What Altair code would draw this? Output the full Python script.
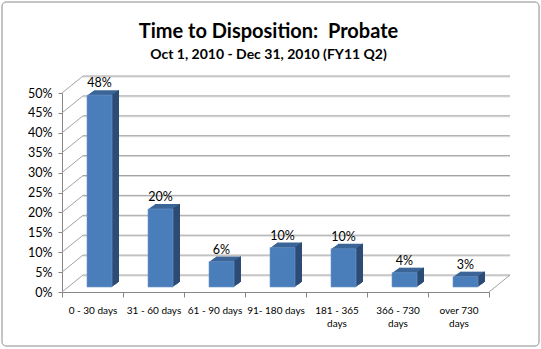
import altair as alt
import pandas as pd

# ---- data ----
categories = ["0 - 30 days", "31 - 60 days", "61 - 90 days", "91- 180 days",
              "181 - 365\ndays", "366 - 730\ndays", "over 730\ndays"]
values = [0.482, 0.196, 0.064, 0.099, 0.096, 0.036, 0.026]
tick_values = [0.0, 0.05, 0.10, 0.15, 0.20, 0.25, 0.30, 0.35, 0.40, 0.45, 0.50]

title_text = "Time to Disposition:\u00a0 Probate"
subtitle_text = "Oct 1, 2010 - Dec 31, 2010 (FY11 Q2)"

df = pd.DataFrame({"category": categories, "value": values})
ticks_df = pd.DataFrame({"t": tick_values})
one_df = pd.DataFrame({"a": [0]})

# ---- layout / style ----
W, H = 427, 199
WALL_DX, WALL_DY = 21, 17      # depth of back wall
BAR_DX, BAR_DY = 7, 5          # bar plane offset from front
EXT_DX, EXT_DY = 7, 5          # bar extrusion
BAR_W = 25
FONT = "Lato"
FRONT = "#4a7ebb"
TOP = "#3c6597"
SIDE = "#2d4c75"
GRID = "#a3a3a3"
GRID2 = "#dadada"
AXIS = "#868686"

y_scale = alt.Scale(domain=[0, 0.5], nice=False, zero=True)
y_axis = alt.Axis(values=tick_values, format=".0%", title=None, grid=False,
                  domainColor=AXIS, tickColor=AXIS, tickSize=4,
                  labelFont=FONT, labelFontSize=12.5, labelColor="black",
                  labelPadding=6)
x_scale = alt.Scale(domain=categories, paddingInner=0, paddingOuter=0)
x_axis = alt.Axis(title=None, labelAngle=0, tickBand="extent", tickSize=5,
                  grid=False, domainColor=AXIS, tickColor=AXIS, labelFont=FONT,
                  labelFontSize=10, labelColor="black", labelPadding=8,
                  labelLineHeight=13, labelExpr="split(datum.label, '\\n')")

X = alt.X("category:N", scale=x_scale, sort=categories, axis=x_axis)
Y = alt.Y("value:Q", scale=y_scale, axis=y_axis)
YT = alt.Y("t:Q", scale=y_scale, axis=y_axis)

layers = []

# chart border
layers.append(
    alt.Chart(one_df).mark_rect(fillOpacity=0, stroke="#8a8a8a", strokeWidth=1,
                                cornerRadius=4)
    .encode(x=alt.value(-60), x2=alt.value(W + 50), y=alt.value(-91), y2=alt.value(H + 54))
)

# back wall gridlines (with light shadow)
layers.append(
    alt.Chart(ticks_df).mark_rule(color=GRID2, strokeWidth=1, yOffset=-WALL_DY + 1)
    .encode(y=YT, x=alt.value(WALL_DX), x2=alt.value(W + WALL_DX))
)
layers.append(
    alt.Chart(ticks_df).mark_rule(color=GRID, strokeWidth=1, yOffset=-WALL_DY)
    .encode(y=YT, x=alt.value(WALL_DX), x2=alt.value(W + WALL_DX))
)
# left wall diagonals
layers.append(
    alt.Chart(ticks_df).mark_rule(color=GRID, strokeWidth=1, y2Offset=-WALL_DY)
    .encode(y=YT, y2=alt.Y2("t:Q"), x=alt.value(0), x2=alt.value(WALL_DX))
)
# floor right edge
layers.append(
    alt.Chart(ticks_df).transform_filter("datum.t == 0")
    .mark_rule(color=GRID, strokeWidth=1, y2Offset=-WALL_DY)
    .encode(y=YT, y2=alt.Y2("t:Q"), x=alt.value(W), x2=alt.value(W + WALL_DX))
)

# bar extrusion (top face colour)
for k in range(1, EXT_DX + 1):
    off = -BAR_DY - k * EXT_DY / EXT_DX
    layers.append(
        alt.Chart(df).mark_bar(size=BAR_W, color=TOP, xOffset=BAR_DX + k,
                               yOffset=off, y2Offset=off)
        .encode(x=X, y=Y, y2=alt.datum(0))
    )
# side face strips
for k in range(1, EXT_DX + 1):
    off = -BAR_DY - k * EXT_DY / EXT_DX
    layers.append(
        alt.Chart(df).mark_bar(size=1, color=SIDE,
                               xOffset=BAR_DX + BAR_W / 2 + k - 0.5,
                               yOffset=off, y2Offset=off)
        .encode(x=X, y=Y, y2=alt.datum(0))
    )
# front face
layers.append(
    alt.Chart(df).mark_bar(size=BAR_W, color=FRONT, xOffset=BAR_DX,
                           yOffset=-BAR_DY, y2Offset=-BAR_DY,
                           stroke="#6f97c9", strokeWidth=0.6)
    .encode(x=X, y=Y, y2=alt.datum(0))
)
# value labels
layers.append(
    alt.Chart(df).mark_text(font=FONT, fontSize=12.5, color="black",
                            baseline="alphabetic", xOffset=BAR_DX,
                            yOffset=-BAR_DY - 8)
    .encode(x=X, y=Y, text=alt.Text("value:Q", format=".0%"))
)

chart = alt.layer(*layers).properties(
    width=W, height=H,
    background="white",
    title=alt.TitleParams(text=title_text, subtitle=subtitle_text,
                          font=FONT, fontSize=20, fontWeight="bold", color="black",
                          subtitleFont=FONT, subtitleFontSize=14,
                          subtitleFontWeight="bold", subtitleColor="black",
                          subtitlePadding=6, anchor="middle", frame="group",
                          offset=-60, dx=-7),
    autosize=alt.AutoSizeParams(type="none"),
    padding={"left": 62, "top": 93, "right": 52, "bottom": 57},
).configure_view(stroke="transparent", strokeWidth=0)

chart.save("out.html", embed_options={"renderer": "svg", "actions": False})
